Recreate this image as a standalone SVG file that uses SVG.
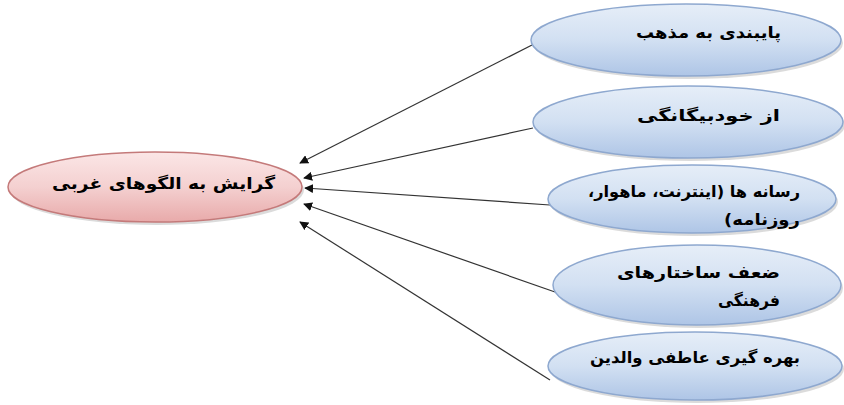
<svg xmlns="http://www.w3.org/2000/svg" width="844" height="405" viewBox="0 0 844 405">
<defs>
<linearGradient id="gb" x1="0" y1="0" x2="0" y2="1">
<stop offset="0" stop-color="#e6eef8"/>
<stop offset="0.5" stop-color="#d2e0f2"/>
<stop offset="1" stop-color="#aec5e6"/>
</linearGradient>
<linearGradient id="gr" x1="0" y1="0" x2="0" y2="1">
<stop offset="0" stop-color="#fbe6e6"/>
<stop offset="0.5" stop-color="#f4d0d0"/>
<stop offset="1" stop-color="#e8aaaa"/>
</linearGradient>
<marker id="ah" viewBox="0 0 10 10" refX="9" refY="5" markerWidth="9" markerHeight="9" orient="auto" markerUnits="userSpaceOnUse">
<path d="M0,0 L10,5 L0,10 z" fill="#111"/>
</marker>
</defs>
<style>
.b{fill:url(#gb);stroke:#8ea8cf;stroke-width:1.5}
.r{fill:url(#gr);stroke:#c47a7a;stroke-width:1.5}
.sh{fill:#b8b8b8;opacity:0.5}
.t{font-family:"DejaVu Sans",sans-serif;font-size:16px;font-weight:bold;fill:#000;direction:rtl;unicode-bidi:embed}
.c{stroke:#333;stroke-width:1.2;fill:none;marker-end:url(#ah)}
</style>
<rect width="844" height="405" fill="#fff"/>
<g id="connectors">
<line class="c" x1="532" y1="45" x2="300" y2="163"/>
<line class="c" x1="533" y1="128" x2="304" y2="178"/>
<line class="c" x1="550" y1="205" x2="305" y2="188"/>
<line class="c" x1="555" y1="292" x2="304" y2="204"/>
<line class="c" x1="550" y1="380" x2="300" y2="222"/>
</g>
<g id="target">
<ellipse class="sh" cx="157" cy="190" rx="147" ry="35"/>
<ellipse class="r" cx="155" cy="187" rx="147" ry="35"/>
<text class="t" x="275" y="189" text-anchor="start" textLength="223" lengthAdjust="spacingAndGlyphs">گرایش به الگوهای غربی</text>
</g>
<g id="n1">
<ellipse class="sh" cx="688" cy="43" rx="155" ry="36"/>
<ellipse class="b" cx="686" cy="40" rx="155" ry="36"/>
<text class="t" x="781" y="38" text-anchor="start" textLength="145" lengthAdjust="spacingAndGlyphs">پایبندی به مذهب</text>
</g>
<g id="n2">
<ellipse class="sh" cx="690" cy="125" rx="155" ry="36"/>
<ellipse class="b" cx="688" cy="122" rx="155" ry="36"/>
<text class="t" x="780" y="121" text-anchor="start" textLength="143" lengthAdjust="spacingAndGlyphs">از خودبیگانگی</text>
</g>
<g id="n3">
<ellipse class="sh" cx="694" cy="202" rx="144" ry="34"/>
<ellipse class="b" cx="692" cy="199" rx="144" ry="34"/>
<text class="t" x="800" y="197" text-anchor="start" textLength="212" lengthAdjust="spacingAndGlyphs">رسانه ها (اینترنت، ماهوار،</text>
<text class="t" x="800" y="225" text-anchor="start" textLength="76" lengthAdjust="spacingAndGlyphs">روزنامه)</text>
</g>
<g id="n4">
<ellipse class="sh" cx="699" cy="288" rx="144" ry="40"/>
<ellipse class="b" cx="697" cy="285" rx="144" ry="40"/>
<text class="t" x="780" y="278" text-anchor="start" textLength="163" lengthAdjust="spacingAndGlyphs">ضعف ساختارهای</text>
<text class="t" x="780" y="306" text-anchor="start" textLength="62" lengthAdjust="spacingAndGlyphs">فرهنگی</text>
</g>
<g id="n5">
<ellipse class="sh" cx="697" cy="369" rx="147" ry="34"/>
<ellipse class="b" cx="695" cy="366" rx="147" ry="34"/>
<text class="t" x="800" y="363" text-anchor="start" textLength="210" lengthAdjust="spacingAndGlyphs">بهره گیری عاطفی والدین</text>
</g>
</svg>
